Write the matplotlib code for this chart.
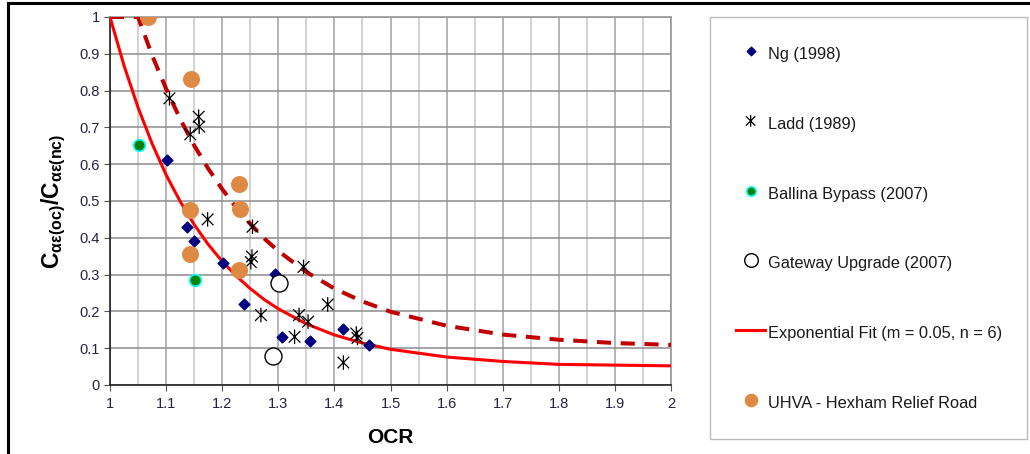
import matplotlib
matplotlib.use("Agg")
import matplotlib.pyplot as plt
from matplotlib.path import Path
from matplotlib.lines import Line2D

plt.rcParams['font.family'] = ['Liberation Sans', 'DejaVu Sans']
plt.rcParams['mathtext.fontset'] = 'custom'
plt.rcParams['mathtext.rm'] = 'Liberation Sans:bold'
plt.rcParams['mathtext.default'] = 'rm'

# Datos
ng_ocr = [1.101, 1.137, 1.149, 1.201, 1.294, 1.238, 1.307, 1.357, 1.416, 1.461]
ng_c = [0.611, 0.430, 0.390, 0.331, 0.302, 0.220, 0.131, 0.120, 0.151, 0.110]

ladd_ocr = [1.106, 1.143, 1.158, 1.159, 1.174, 1.254, 1.253, 1.251, 1.345,
            1.269, 1.337, 1.353, 1.329, 1.388, 1.439, 1.441, 1.416]
ladd_c = [0.779, 0.681, 0.729, 0.702, 0.450, 0.430, 0.349, 0.334, 0.321,
          0.190, 0.190, 0.172, 0.131, 0.219, 0.140, 0.128, 0.061]

ballina_ocr = [1.051, 1.151]
ballina_c = [0.651, 0.284]

gateway_ocr = [1.302, 1.290]
gateway_c = [0.276, 0.079]

uhva_ocr = [1.068, 1.144, 1.230, 1.232, 1.143, 1.143, 1.230]
uhva_c = [1.000, 0.832, 0.547, 0.478, 0.476, 0.356, 0.312]

# Curvas (valores leidos)
fit_ocr = [1.00, 1.025, 1.05, 1.075, 1.10, 1.125, 1.15, 1.175, 1.20, 1.225,
           1.25, 1.275, 1.30, 1.35, 1.40, 1.45, 1.50, 1.60, 1.70, 1.80, 1.90, 2.00]
fit_c = [1.000, 0.868, 0.754, 0.656, 0.571, 0.499, 0.436, 0.382, 0.336, 0.296,
         0.262, 0.232, 0.207, 0.166, 0.136, 0.114, 0.097, 0.076, 0.064, 0.056,
         0.054, 0.052]

upper_ocr = [1.00, 1.05, 1.075, 1.10, 1.125, 1.15, 1.175, 1.20, 1.225, 1.25,
             1.275, 1.30, 1.35, 1.40, 1.45, 1.50, 1.60, 1.70, 1.80, 1.90, 2.00]
upper_c = [1.000, 1.000, 0.896, 0.805, 0.723, 0.651, 0.588, 0.532, 0.482, 0.438,
           0.398, 0.364, 0.307, 0.262, 0.227, 0.199, 0.161, 0.137, 0.123, 0.114,
           0.109]

x_ticks = [1, 1.1, 1.2, 1.3, 1.4, 1.5, 1.6, 1.7, 1.8, 1.9, 2]
x_tick_labels = ['1', '1.1', '1.2', '1.3', '1.4', '1.5', '1.6', '1.7', '1.8', '1.9', '2']
y_ticks = [0, 0.1, 0.2, 0.3, 0.4, 0.5, 0.6, 0.7, 0.8, 0.9, 1]
y_tick_labels = ['0', '0.1', '0.2', '0.3', '0.4', '0.5', '0.6', '0.7', '0.8', '0.9', '1']

# Marcador estrella tipo Excel (X + linea vertical)
estrella = Path([(-1, -1), (1, 1), (-1, 1), (1, -1), (0, -1.25), (0, 1.25)],
                [Path.MOVETO, Path.LINETO, Path.MOVETO, Path.LINETO,
                 Path.MOVETO, Path.LINETO])

fig = plt.figure(figsize=(10.3, 4.54), dpi=100)
ax = fig.add_axes([0.1068, 0.152, 0.5447, 0.8106])

ax.plot(upper_ocr, upper_c, color='#C00000', lw=2.9, dashes=(3.5, 2.4), zorder=3)
ax.plot(fit_ocr, fit_c, color='#FF0000', lw=2.2, zorder=3,
        label='Exponential Fit (m = 0.05, n = 6)')

ax.scatter(ng_ocr, ng_c, marker='D', s=30, color='#000080', zorder=4, label='Ng (1998)')
ax.scatter(ladd_ocr, ladd_c, marker=estrella, s=110, facecolor='none',
           edgecolor='black', linewidths=0.9, zorder=4, label='Ladd (1989)')
ax.scatter(ballina_ocr, ballina_c, marker='o', s=70, color='#008000',
           edgecolor='#00FFFF', linewidths=1.2, zorder=4, label='Ballina Bypass (2007)')
ax.scatter(gateway_ocr, gateway_c, marker='o', s=150, facecolor='white',
           edgecolor='black', linewidths=1.0, zorder=4, label='Gateway Upgrade (2007)')
ax.scatter(uhva_ocr, uhva_c, marker='o', s=150, color='#DE8A45', linewidths=0,
           zorder=4, label='UHVA - Hexham Relief Road')

ax.set_xlim(1, 2)
ax.set_ylim(0, 1)
ax.set_xticks(x_ticks)
ax.set_xticklabels(x_tick_labels)
ax.set_yticks(y_ticks)
ax.set_yticklabels(y_tick_labels)
ax.set_xticks([1.05 + 0.1 * i for i in range(10)], minor=True)

ax.grid(True, which='major', axis='y', color='#8C8C8C', lw=1.1)
ax.grid(True, which='major', axis='x', color='#AFAFAF', lw=1.3)
ax.grid(True, which='minor', axis='x', color='#CFCFCF', lw=1.3)
ax.set_axisbelow(True)

ax.tick_params(axis='both', which='major', labelsize=10.5, colors='#555555',
               labelcolor='#222244', length=4, width=0.8)
ax.tick_params(axis='x', which='minor', length=0)
ax.tick_params(axis='x', pad=5)

for lado in ['top', 'right']:
    ax.spines[lado].set_color('#999999')
    ax.spines[lado].set_linewidth(1.2)
for lado in ['left', 'bottom']:
    ax.spines[lado].set_color('#222222')
    ax.spines[lado].set_linewidth(1.2)

ax.set_xlabel('OCR', fontsize=15, fontweight='bold', labelpad=12)
ax.set_ylabel('C$_{αε(oc)}$/C$_{αε(nc)}$', fontsize=16.5, fontweight='bold', labelpad=8)

handles, labels = ax.get_legend_handles_labels()
orden = ['Ng (1998)', 'Ladd (1989)', 'Ballina Bypass (2007)', 'Gateway Upgrade (2007)',
         'Exponential Fit (m = 0.05, n = 6)', 'UHVA - Hexham Relief Road']
h_ord = [handles[labels.index(n)] for n in orden]
leg = fig.legend(h_ord, orden, loc='upper left',
                 bbox_to_anchor=(0.689, 0.0352, 0.308, 0.9274), mode='expand',
                 fontsize=11.8, frameon=True, fancybox=False, borderpad=1.6,
                 labelspacing=2.97, handlelength=1.8, handleheight=1.6,
                 handletextpad=0.15, borderaxespad=0, scatterpoints=1,
                 markerscale=0.8)
leg.get_frame().set_edgecolor('#AAAAAA')
leg.get_frame().set_linewidth(1.0)
for t in leg.get_texts():
    t.set_color('#1a1a1a')

# Borde de la figura (arriba e izquierda)
fig.add_artist(Line2D([0.0078, 1.0], [0.9934, 0.9934], color='black', lw=2.2))
fig.add_artist(Line2D([0.0078, 0.0078], [0.0, 0.9934], color='black', lw=2.2))

fig.savefig('out.png', dpi=100)
